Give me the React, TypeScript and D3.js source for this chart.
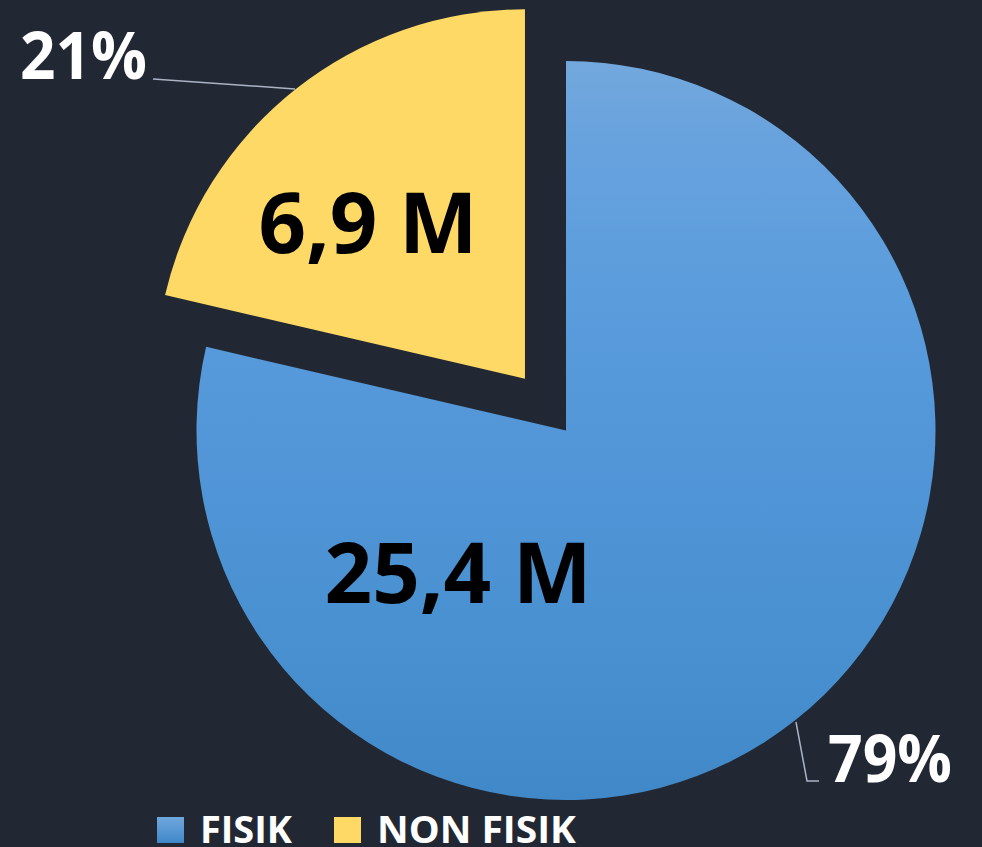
import React from "react";
import * as d3 from "d3";

const categories = ["FISIK", "NON FISIK"];
const values = [25.4, 6.9];
const valueLabels = ["25,4 M", "6,9 M"];
const percentLabels = ["79%", "21%"];

const W = 982;
const H = 847;
const BG = "#222833";
const FONT = "'Open Sans', 'DejaVu Sans', sans-serif";

const blueStops = [
  { o: "0%", c: "#72a8dc" },
  { o: "12%", c: "#67a2de" },
  { o: "32%", c: "#5a9cdc" },
  { o: "53%", c: "#5296d8" },
  { o: "80%", c: "#4890d0" },
  { o: "100%", c: "#4088c8" },
];

export default function App() {
  const cx = 566;
  const cy = 430.5;
  const r = 369.5;
  const explode = 66;

  const pie = d3.pie<number>().sort(null).value((d) => d);
  const arcs = pie(values);
  const arc = d3.arc<d3.PieArcDatum<number>>().innerRadius(0).outerRadius(r);

  const offsets = arcs.map((a, i) => {
    if (i !== 1) return [0, 0];
    const mid = (a.startAngle + a.endAngle) / 2;
    return [Math.sin(mid) * explode, -Math.cos(mid) * explode];
  });

  // label layout (relative to pie centre)
  const valuePos = [
    { x: -108, y: 172.5, w: 267 },
    { x: -198, y: -177.5, w: 219 },
  ];
  const pctPos = [
    { x: 262, y: 351.5, w: 124 },
    { x: -546, y: -351.5, w: 127 },
  ];
  const leaders = [
    [
      [230, 291.5],
      [241, 350.5],
      [253, 350.5],
    ],
    [
      [-271, -341.5],
      [-413, -351.5],
    ],
  ];

  const line = d3.line();

  return (
    <svg
      width={W}
      height={H}
      style={{ position: "absolute", left: 0, top: 0, background: BG, display: "block" }}
    >
      <defs>
        <linearGradient
          id="blueGrad"
          gradientUnits="userSpaceOnUse"
          x1={0}
          y1={-r}
          x2={0}
          y2={r}
        >
          {blueStops.map((s) => (
            <stop key={s.o} offset={s.o} stopColor={s.c} />
          ))}
        </linearGradient>
        <linearGradient id="blueLeg" x1="0" y1="0" x2="0" y2="1">
          <stop offset="0%" stopColor="#70a8dd" />
          <stop offset="100%" stopColor="#3f87c8" />
        </linearGradient>
      </defs>
      <rect x={0} y={0} width={W} height={H} fill={BG} />
      <g transform={`translate(${cx},${cy})`}>
        {arcs.map((a, i) => (
          <path
            key={i}
            d={arc(a) || ""}
            transform={`translate(${offsets[i][0]},${offsets[i][1]})`}
            fill={i === 0 ? "url(#blueGrad)" : "#ffd966"}
          />
        ))}
        {leaders.map((pts, i) => (
          <path
            key={"l" + i}
            d={line(pts as [number, number][]) || ""}
            fill="none"
            stroke="#a9b4c6"
            strokeWidth={1.5}
          />
        ))}
        {valueLabels.map((t, i) => (
          <text
            key={"v" + i}
            x={valuePos[i].x}
            y={valuePos[i].y}
            textAnchor="middle"
            fontFamily={FONT}
            fontWeight={700}
            fontSize={84}
            fill="#000"
            textLength={valuePos[i].w}
            lengthAdjust="spacingAndGlyphs"
          >
            {t}
          </text>
        ))}
        {percentLabels.map((t, i) => (
          <text
            key={"p" + i}
            x={pctPos[i].x}
            y={pctPos[i].y}
            textAnchor="start"
            fontFamily={FONT}
            fontWeight={700}
            fontSize={67}
            fill="#ffffff"
            textLength={pctPos[i].w}
            lengthAdjust="spacingAndGlyphs"
          >
            {t}
          </text>
        ))}
      </g>
      <g>
        {categories.map((c, i) => {
          const sx = i === 0 ? 157 : 334;
          const tw = i === 0 ? 92 : 199;
          return (
            <g key={c}>
              <rect
                x={sx}
                y={817}
                width={27}
                height={26}
                fill={i === 0 ? "url(#blueLeg)" : "#ffd966"}
              />
              <text
                x={sx + 43}
                y={843}
                fontFamily={FONT}
                fontWeight={700}
                fontSize={38}
                fill="#ffffff"
                textLength={tw}
                lengthAdjust="spacingAndGlyphs"
              >
                {c}
              </text>
            </g>
          );
        })}
      </g>
    </svg>
  );
}
